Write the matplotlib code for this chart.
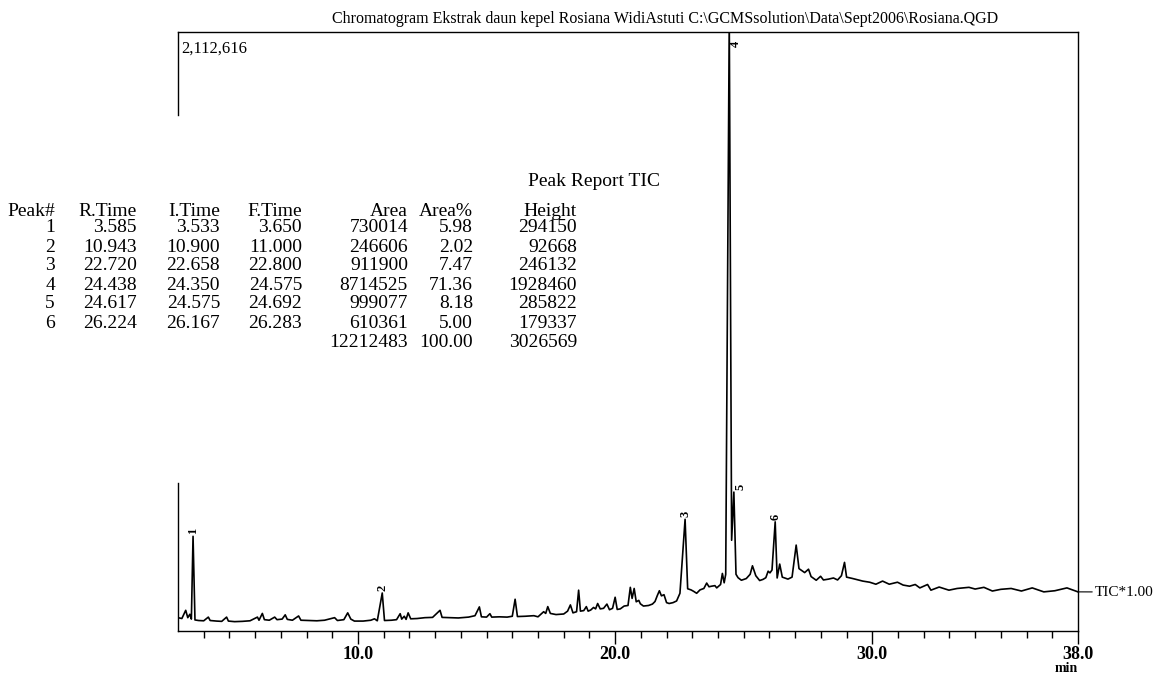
import numpy as np
import matplotlib.pyplot as plt

W, H = 1157, 675

# chromatogram trace (time in min, TIC counts)
rt = [3.00, 3.15, 3.30, 3.38, 3.46, 3.52, 3.585, 3.66, 3.80, 4.00, 4.18, 4.25, 4.50, 4.70, 4.89, 4.96,
      5.20, 5.50, 5.80, 6.09, 6.15, 6.28, 6.36, 6.55, 6.76, 6.85, 7.05, 7.17, 7.25, 7.45, 7.69, 7.78,
      8.10, 8.40, 8.70, 9.09, 9.20, 9.45, 9.60, 9.72,
      9.86, 10.20, 10.50, 10.64, 10.75, 10.943, 11.03, 11.30, 11.50, 11.64, 11.70, 11.80, 11.87, 11.95,
      12.05, 12.30, 12.60, 12.90, 13.19, 13.27, 13.60, 13.90, 14.30, 14.55, 14.72, 14.80, 15.00, 15.13,
      15.20, 15.50, 15.80, 16.00, 16.11, 16.20, 16.50, 16.84,
      17.00, 17.22, 17.30, 17.38, 17.48, 17.70, 18.00, 18.15, 18.26, 18.36, 18.50, 18.58, 18.65, 18.78,
      18.88, 18.95, 19.05, 19.16, 19.24, 19.32, 19.42, 19.55, 19.68, 19.78, 19.90, 20.00, 20.08, 20.20,
      20.35, 20.50, 20.59, 20.66, 20.74, 20.82, 20.92, 20.98, 21.10, 21.30, 21.45, 21.55, 21.64, 21.72,
      21.80, 21.90, 22.00, 22.10, 22.25, 22.39, 22.52, 22.72, 22.82, 22.95, 23.05, 23.17, 23.30, 23.45,
      23.56, 23.65, 23.75, 23.88, 23.95,
      24.10, 24.17, 24.24, 24.30, 24.438, 24.53, 24.617, 24.70, 24.78, 24.91, 25.10, 25.25, 25.34, 25.47,
      25.62, 25.75, 25.86, 25.95, 26.02, 26.10, 26.224, 26.30, 26.40, 26.50, 26.72, 26.88, 27.04, 27.15,
      27.37, 27.52, 27.62, 27.82, 27.99, 28.10, 28.30, 28.49, 28.65, 28.80, 28.92, 29.00, 29.24, 29.45,
      29.63, 29.90, 30.14, 30.40, 30.66, 30.98,
      31.20, 31.45, 31.67, 31.85, 32.15, 32.28, 32.60, 32.98, 33.30, 33.76, 34.00, 34.34, 34.67, 35.00,
      35.40, 35.80, 36.22, 36.67, 37.10, 37.57, 38.00]
tic_k = [47, 44, 73, 47, 59, 42, 334, 39, 37, 36, 49, 37, 35, 34, 49, 35,
         33, 34, 36, 49, 38, 62, 40, 38, 49, 40, 42, 57, 41, 38, 53, 38,
         37, 36, 38, 47, 37, 40, 64, 42,
         35, 35, 38, 43, 36, 134, 37, 38, 40, 61, 42, 52, 41, 64,
         43, 44, 47, 48, 73, 48, 47, 46, 49, 54, 85, 50, 49, 61,
         49, 50, 49, 52, 112, 51, 52, 54,
         50, 68, 62, 86, 62, 58, 60, 70, 92, 64, 68, 144, 70, 72,
         86, 70, 74, 83, 78, 97, 78, 80, 95, 75, 80, 119, 76, 78,
         88, 90, 154, 115, 150, 103, 108, 96, 88, 90, 95, 104, 125, 142,
         124, 128, 100, 97, 100, 106, 133, 394, 149, 145, 140, 133, 145, 150,
         169, 156, 158, 160, 152,
         164, 203, 170, 200, 2160, 320, 490, 200, 188, 179, 185, 200, 230, 195,
         178, 182, 188, 211, 205, 215, 385, 187, 236, 190, 183, 190, 303, 220,
         206, 218, 192, 179, 193, 180, 183, 187, 180, 195, 242, 190, 185, 180,
         176, 172, 165, 176, 165, 172,
         162, 158, 164, 152, 164, 144, 155, 144, 150, 154, 148, 154, 141, 147,
         150, 141, 152, 138, 142, 152, 138]
tic = np.array(tic_k) * 1000

# peak report table
peak_no = ["1", "2", "3", "4", "5", "6"]
r_time = [3.585, 10.943, 22.720, 24.438, 24.617, 26.224]
i_time = [3.533, 10.900, 22.658, 24.350, 24.575, 26.167]
f_time = [3.650, 11.000, 22.800, 24.575, 24.692, 26.283]
area = [730014, 246606, 911900, 8714525, 999077, 610361]
area_pct = [5.98, 2.02, 7.47, 71.36, 8.18, 5.00]
height = [294150, 92668, 246132, 1928460, 285822, 179337]
area_total, pct_total, height_total = 12212483, 100.00, 3026569

# apex of each labelled peak as drawn (counts)
label_y = [334000, 134000, 394000, 2080000, 490000, 385000]

y_max = 2112616
x_ticks = [10.0, 20.0, 30.0, 38.0]

plt.rcParams['font.family'] = ['Liberation Serif', 'DejaVu Serif']

fig = plt.figure(figsize=(W / 100, H / 100), dpi=100)
ax = fig.add_axes([178 / W, 1 - 631 / H, 900 / W, 599 / H])

ax.plot(rt, tic, color='black', lw=1.2)
ax.set_xlim(3.0, 38.0)
ax.set_ylim(0, y_max)

ax.set_xticks(x_ticks)
ax.set_xticklabels([f"{t:.1f}" for t in x_ticks], fontsize=13, fontweight='bold')
ax.set_xticks(np.arange(4, 38), minor=True)
ax.tick_params(axis='x', which='major', direction='out', length=9, width=1, pad=2)
ax.tick_params(axis='x', which='minor', direction='out', length=5, width=1)
ax.set_yticks([])
for s in ['top', 'right', 'bottom']:
    ax.spines[s].set_linewidth(1.0)
ax.spines['left'].set_visible(False)
# left frame is broken where the peak table is pasted over it
ax.plot([0, 0], [0.861, 1.0], color='black', lw=1.0, transform=ax.transAxes, clip_on=False)
ax.plot([0, 0], [0.0, 0.247], color='black', lw=1.0, transform=ax.transAxes, clip_on=False)

# peak numbers
for i, (t, y) in enumerate(zip(r_time, label_y)):
    dx = 0.25 if i in (3, 4) else 0.0
    va = 'top' if i == 3 else 'bottom'
    ax.text(t + dx, y + (0 if i == 3 else 8000), peak_no[i], rotation=90, ha='center', va=va,
            fontsize=9, fontweight='bold')

ax.text(0.004, 0.985, f"{y_max:,}", transform=ax.transAxes, ha='left', va='top', fontsize=12)
fig.text(665 / W, 1 - 19 / H,
         r"Chromatogram Ekstrak daun kepel Rosiana WidiAstuti C:\GCMSsolution\Data\Sept2006\Rosiana.QGD",
         ha='center', va='center', fontsize=11.5)
fig.text(1066 / W, 1 - 669 / H, "min", ha='center', va='center', fontsize=10, fontweight='bold')
ax.annotate("TIC*1.00", xy=(38.0, tic[-1]), xytext=(1095 / W, 1 - 592 / H), textcoords='figure fraction',
            ha='left', va='center', fontsize=11, annotation_clip=False,
            arrowprops=dict(arrowstyle='-', color='black', lw=0.8, shrinkA=0, shrinkB=0))


def ft(x, y, s, **kw):
    fig.text(x / W, 1 - y / H, s, va='center', fontsize=14, **kw)


ft(528, 182, "Peak Report TIC", ha='left')
cols = [55, 137, 220, 302, 408, 473, 577]
heads = ["Peak#", "R.Time", "I.Time", "F.Time", "Area", "Area%", "Height"]
for x, h in zip(cols, heads):
    ft(x, 212, h, ha='right')
for i in range(len(peak_no)):
    y = 228 + 19 * i
    row = [peak_no[i], f"{r_time[i]:.3f}", f"{i_time[i]:.3f}", f"{f_time[i]:.3f}",
           str(area[i]), f"{area_pct[i]:.2f}", str(height[i])]
    for x, s in zip(cols, row):
        ft(x, y, s, ha='right')
y = 228 + 19 * len(peak_no)
ft(cols[4], y, str(area_total), ha='right')
ft(cols[5], y, f"{pct_total:.2f}", ha='right')
ft(cols[6], y, str(height_total), ha='right')

fig.savefig("out.png", dpi=100)
